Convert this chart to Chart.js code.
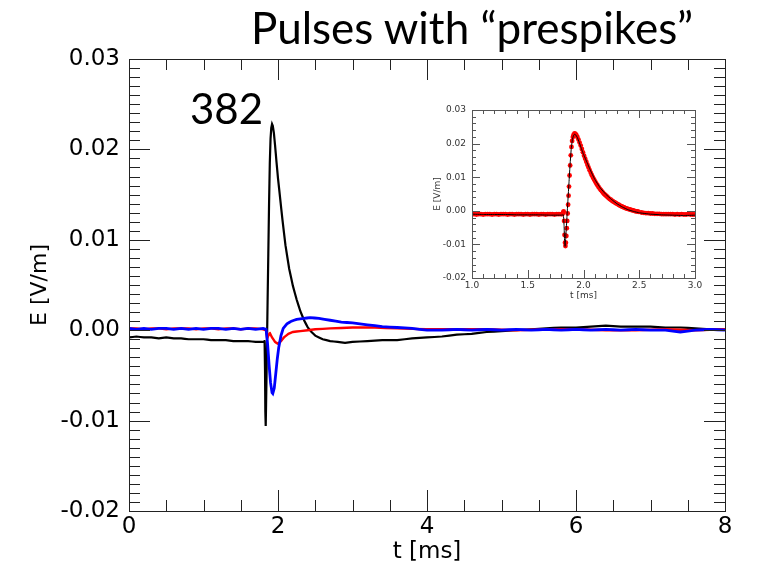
<!DOCTYPE html>
<html>
<head>
<meta charset="utf-8">
<script src="https://cdn.jsdelivr.net/npm/chart.js@4"></script>
<style>
  body { margin: 0; background: #fff; }
  #wrap { position: relative; width: 759px; height: 569px; }
  #main { position: absolute; left: 0; top: 0; }
  #inset { position: absolute; left: 400px; top: 95px; }
  .txt { position: absolute; font-family: Lato, sans-serif; line-height: 1; color: #000; white-space: nowrap; }
</style>
</head>
<body>
<div id="wrap">
  <canvas id="main" width="759" height="569"></canvas>
  <canvas id="inset" width="320" height="220"></canvas>
  <div class="txt" style="right:66px; top:5px; font-size:44px;">Pulses with “prespikes”</div>
  <div class="txt" style="left:190px; top:87px; font-size:42px;">382</div>
</div>
<script>
// tick values
const xTicks = [0, 2, 4, 6, 8];
const yTicks = [-0.02, -0.01, 0.00, 0.01, 0.02, 0.03];
const insetXTicks = [1.0, 1.5, 2.0, 2.5, 3.0];

// black trace (t in ms, E in V/m)
const blackT = [0,0.1,0.2,0.3,0.4,0.5,0.6,0.7,0.8,0.9,1.0,1.1,1.2,1.3,1.4,1.5,1.6,1.7,1.8,
  1.82,1.826,1.830,1.835,1.840,1.846,1.852,1.860,1.870,1.880,1.890,1.900,1.910,1.920,1.930,1.945,
  1.96,1.98,2.00,2.03,2.06,2.10,2.15,2.20,2.25,2.30,2.35,2.40,2.45,2.50,2.60,2.70,2.80,2.90,3.00,
  3.20,3.40,3.60,3.80,4.00,4.20,4.40,4.60,4.80,5.00,5.20,5.40,5.60,5.80,6.00,6.20,6.40,6.60,6.80,
  7.00,7.20,7.40,7.60,7.80,8.00];
const blackE = [-0.0008,-0.0007,-0.0008,-0.0008,-0.0009,-0.0008,-0.0009,-0.0009,-0.0010,-0.0010,
  -0.0010,-0.0011,-0.0011,-0.0011,-0.0012,-0.0012,-0.0012,-0.0013,-0.0013,
  -0.0012,-0.0045,-0.0090,-0.0106,-0.0082,-0.0050,-0.0015,0.0030,0.0085,0.0140,0.0185,0.0212,
  0.0224,0.0228,0.0226,0.0218,0.0205,0.0186,0.0168,0.0145,0.0122,0.0094,0.0068,0.0049,0.0034,
  0.0021,0.0011,0.0003,-0.0002,-0.0006,-0.0010,-0.0012,-0.0013,-0.0014,-0.0013,-0.0012,-0.0011,
  -0.0011,-0.0009,-0.0008,-0.0007,-0.0005,-0.0004,-0.0002,-0.0001,0.0000,0.0001,0.0002,0.0003,
  0.0003,0.0004,0.0005,0.0004,0.0004,0.0004,0.0003,0.0003,0.0002,0.0001,0.0001];

// blue trace
const blueT = [0,0.1,0.2,0.3,0.4,0.5,0.6,0.7,0.8,0.9,1.0,1.1,1.2,1.3,1.4,1.5,1.6,1.7,1.8,
  1.84,1.86,1.88,1.90,1.92,1.93,1.95,1.97,1.99,2.01,2.04,2.07,2.12,2.18,2.25,2.35,2.43,2.55,2.7,2.85,
  3.0,3.2,3.4,3.6,3.8,4.0,4.2,4.4,4.6,4.8,5.0,5.2,5.4,5.6,5.8,6.0,6.2,6.4,6.6,6.8,
  7.0,7.2,7.4,7.6,7.8,8.0];
const blueE = [0.0002,0.0001,0.0002,0.0001,0.0002,0.0002,0.0001,0.0002,0.0001,0.0002,
  0.0001,0.0002,0.0002,0.0001,0.0002,0.0001,0.0002,0.0001,0.0002,
  0.0001,-0.0015,-0.0038,-0.0058,-0.0069,-0.0070,-0.0064,-0.0048,-0.0032,-0.0019,
  -0.0006,0.0002,0.0007,0.0010,0.0012,0.0013,0.0014,0.0013,0.0011,0.0009,
  0.0008,0.0006,0.0004,0.0003,0.0002,0.0000,0.0000,0.0001,0.0000,0.0001,
  0.0000,0.0001,0.0000,0.0001,0.0000,0.0001,0.0000,0.0001,0.0000,0.0001,
  0.0000,0.0000,-0.0002,0.0000,0.0001,0.0000];

// red trace
const redT = [0,0.1,0.2,0.3,0.4,0.5,0.6,0.7,0.8,0.9,1.0,1.1,1.2,1.3,1.4,1.5,1.6,1.7,1.8,
  1.84,1.855,1.87,1.89,1.92,1.96,2.00,2.04,2.08,2.14,2.2,2.3,2.5,2.7,3.0,3.3,3.6,4.0,4.4,4.8,
  5.2,5.6,6.0,6.4,6.8,7.2,7.6,8.0];
const redE = [0.0002,0.0002,0.0001,0.0002,0.0002,0.0001,0.0002,0.0002,0.0002,0.0001,
  0.0002,0.0002,0.0001,0.0002,0.0002,0.0001,0.0002,0.0002,0.0001,
  0.0000,-0.0009,-0.0006,-0.0003,-0.0008,-0.0013,-0.0015,-0.0012,-0.0008,-0.0004,
  -0.0002,-0.0001,0.0001,0.0002,0.0003,0.0003,0.0002,0.0001,0.0001,0.0001,
  0.0000,0.0001,0.0001,0.0000,0.0000,0.0001,0.0000,0.0001];

// inset: red points over the black trace
const fitT = [1.00,1.02,1.04,1.06,1.08,1.10,1.12,1.14,1.16,1.18,1.20,1.22,1.24,1.26,1.28,1.30,
  1.32,1.34,1.36,1.38,1.40,1.42,1.44,1.46,1.48,1.50,1.52,1.54,1.56,1.58,1.60,1.62,1.64,1.66,
  1.68,1.70,1.72,1.74,1.76,1.78,1.80,
  1.81,1.818,1.822,1.826,1.830,1.834,1.838,1.842,1.846,1.850,1.854,1.858,1.862,1.866,1.870,
  1.875,1.880,1.886,1.892,1.898,1.905,1.912,1.920,1.927,
  1.935,1.945,1.955,1.965,1.975,1.985,1.995,2.005,2.015,2.025,2.035,2.045,2.055,2.065,2.075,
  2.085,2.095,2.105,2.115,2.125,2.135,2.145,2.155,2.165,2.175,2.185,2.195,2.205,2.215,2.225,
  2.235,2.245,2.255,2.265,2.275,2.285,2.295,2.305,2.315,2.325,2.335,2.345,2.355,2.365,2.375,
  2.385,2.395,2.405,2.415,2.425,2.435,2.445,2.455,2.465,2.475,2.485,2.495,
  2.52,2.54,2.56,2.58,2.60,2.62,2.64,2.66,2.68,2.70,2.72,2.74,2.76,2.78,2.80,2.82,2.84,2.86,
  2.88,2.90,2.92,2.94,2.96,2.98,3.00];
const fitE = [-0.0010,-0.0010,-0.0011,-0.0010,-0.0010,-0.0011,-0.0010,-0.0010,-0.0010,-0.0011,
  -0.0010,-0.0010,-0.0011,-0.0010,-0.0010,-0.0010,-0.0011,-0.0010,-0.0010,-0.0011,-0.0010,
  -0.0010,-0.0010,-0.0011,-0.0010,-0.0010,-0.0011,-0.0010,-0.0010,-0.0010,-0.0011,-0.0010,
  -0.0010,-0.0011,-0.0010,-0.0010,-0.0010,-0.0011,-0.0010,-0.0010,-0.0010,
  -0.0010,-0.0005,-0.0002,-0.0030,-0.0072,-0.0095,-0.0105,-0.0095,-0.0075,-0.0052,-0.0030,
  -0.0008,0.0018,0.0045,0.0072,0.0105,0.0135,0.0165,0.0190,0.0208,0.0220,0.0227,0.0230,0.0229,
  0.0226,0.0220,0.0212,0.0203,0.0194,0.0184,0.0174,0.0164,0.0155,0.0146,0.0137,0.0129,0.0121,
  0.0113,0.0106,0.0099,0.0093,0.0087,0.0081,0.0076,0.0071,0.0066,0.0062,0.0058,0.0054,0.0050,
  0.0047,0.0044,0.0041,0.0038,0.0035,0.0033,0.0030,0.0028,0.0026,0.0024,0.0022,0.0020,0.0018,
  0.0016,0.0014,0.0013,0.0011,0.0010,0.0008,0.0007,0.0006,0.0005,0.0004,0.0003,0.0002,0.0001,
  0.0000,-0.0001,-0.0002,-0.0002,-0.0003,
  -0.0005,-0.0006,-0.0007,-0.0007,-0.0008,-0.0008,-0.0009,-0.0009,-0.0009,-0.0010,-0.0010,
  -0.0010,-0.0010,-0.0010,-0.0010,-0.0011,-0.0010,-0.0011,-0.0010,-0.0011,-0.0011,-0.0010,
  -0.0011,-0.0011,-0.0011];

const pts = (ts, es) => ts.map((t, i) => ({ x: t, y: es[i] }));

// box frame with inward ticks on all four sides
const frameTicks = {
  id: 'frameTicks',
  afterDraw(chart, args, o) {
    const { ctx, chartArea: a, scales: { x, y } } = chart;
    const isMajor = (v, m) => Math.abs(v / m - Math.round(v / m)) < 1e-6;
    ctx.save();
    ctx.strokeStyle = o.color;
    ctx.lineWidth = 1;
    ctx.beginPath();
    const nx = Math.round((x.max - x.min) / o.xMinor);
    for (let i = 0; i <= nx; i++) {
      const v = x.min + i * o.xMinor;
      const px = Math.round(x.getPixelForValue(v)) + 0.5;
      const len = isMajor(v, o.xMajor) ? o.major : o.minor;
      ctx.moveTo(px, a.bottom); ctx.lineTo(px, a.bottom - len);
      ctx.moveTo(px, a.top); ctx.lineTo(px, a.top + len);
    }
    const ny = Math.round((y.max - y.min) / o.yMinor);
    for (let i = 0; i <= ny; i++) {
      const v = y.min + i * o.yMinor;
      const py = Math.round(y.getPixelForValue(v)) + 0.5;
      const len = isMajor(v, o.yMajor) ? o.major : o.minor;
      ctx.moveTo(a.left, py); ctx.lineTo(a.left + len, py);
      ctx.moveTo(a.right, py); ctx.lineTo(a.right - len, py);
    }
    ctx.stroke();
    ctx.strokeRect(Math.round(a.left) + 0.5, Math.round(a.top) + 0.5,
      Math.round(a.right - a.left), Math.round(a.bottom - a.top));
    ctx.restore();
  }
};

const big = { family: 'DejaVu Sans', size: 23 };
const small = { family: 'DejaVu Sans', size: 9 };

new Chart(document.getElementById('main'), {
  type: 'line',
  data: {
    datasets: [
      { data: pts(blueT, blueE), borderColor: '#0000ff', borderWidth: 2.8, pointRadius: 0, tension: 0.001 },
      { data: pts(redT, redE), borderColor: '#ff0000', borderWidth: 2.4, pointRadius: 0, tension: 0.001 },
      { data: pts(blackT, blackE), borderColor: '#000000', borderWidth: 2.2, pointRadius: 0, tension: 0.001 }
    ]
  },
  options: {
    responsive: false,
    animation: false,
    devicePixelRatio: 1,
    layout: { padding: { left: 0, right: 34, top: 59, bottom: 0 } },
    plugins: {
      legend: { display: false },
      tooltip: { enabled: false },
      frameTicks: { color: '#222', xMinor: 0.5, xMajor: 2, yMinor: 0.001, yMajor: 0.01, minor: 11, major: 21 }
    },
    scales: {
      x: {
        type: 'linear', min: 0, max: 8,
        afterBuildTicks: s => { s.ticks = xTicks.map(v => ({ value: v })); },
        afterFit: s => { s.height = 58; },
        grid: { display: false, drawTicks: false },
        border: { display: false },
        ticks: { padding: 2, maxRotation: 0, autoSkip: false, font: big, color: '#000', callback: v => String(v) },
        title: { display: true, text: 't [ms]', font: big, color: '#000', padding: { top: 0, bottom: 3 } }
      },
      y: {
        type: 'linear', min: -0.02, max: 0.03,
        afterBuildTicks: s => { s.ticks = yTicks.map(v => ({ value: v })); },
        afterFit: s => { s.width = 129; },
        grid: { display: false, drawTicks: false },
        border: { display: false },
        ticks: { padding: 9, autoSkip: false, font: big, color: '#000', callback: v => v.toFixed(2) },
        title: { display: true, text: 'E [V/m]', font: { family: 'DejaVu Sans', size: 22 }, color: '#000', padding: { top: 27, bottom: 0 } }
      }
    }
  },
  plugins: [frameTicks]
});

new Chart(document.getElementById('inset'), {
  type: 'line',
  data: {
    datasets: [
      { data: pts(blackT, blackE), borderColor: '#000000', borderWidth: 1, pointRadius: 0, tension: 0.001 },
      { data: pts(fitT, fitE), showLine: false, pointRadius: 2.4, pointBorderWidth: 0,
        pointBackgroundColor: '#ff0000', borderColor: '#ff0000' }
    ]
  },
  options: {
    responsive: false,
    animation: false,
    devicePixelRatio: 1,
    layout: { padding: { left: 0, right: 25, top: 15, bottom: 0 } },
    plugins: {
      legend: { display: false },
      tooltip: { enabled: false },
      frameTicks: { color: '#555', xMinor: 0.1, xMajor: 0.5, yMinor: 0.002, yMajor: 0.01, minor: 4, major: 8 }
    },
    scales: {
      x: {
        type: 'linear', min: 1, max: 3,
        afterBuildTicks: s => { s.ticks = insetXTicks.map(v => ({ value: v })); },
        afterFit: s => { s.height = 37; },
        grid: { display: false, drawTicks: false },
        border: { display: false },
        ticks: { padding: 2, maxRotation: 0, autoSkip: false, font: small, color: '#333', callback: v => v.toFixed(1) },
        title: { display: true, text: 't [ms]', font: small, color: '#333', padding: { top: 0, bottom: 14 } }
      },
      y: {
        type: 'linear', min: -0.02, max: 0.03,
        afterBuildTicks: s => { s.ticks = yTicks.map(v => ({ value: v })); },
        afterFit: s => { s.width = 72; },
        grid: { display: false, drawTicks: false },
        border: { display: false },
        ticks: { padding: 6, autoSkip: false, font: small, color: '#333', callback: v => v.toFixed(2) },
        title: { display: true, text: 'E [V/m]', font: small, color: '#333', padding: { top: 32, bottom: 0 } }
      }
    }
  },
  plugins: [frameTicks]
});
</script>
</body>
</html>
